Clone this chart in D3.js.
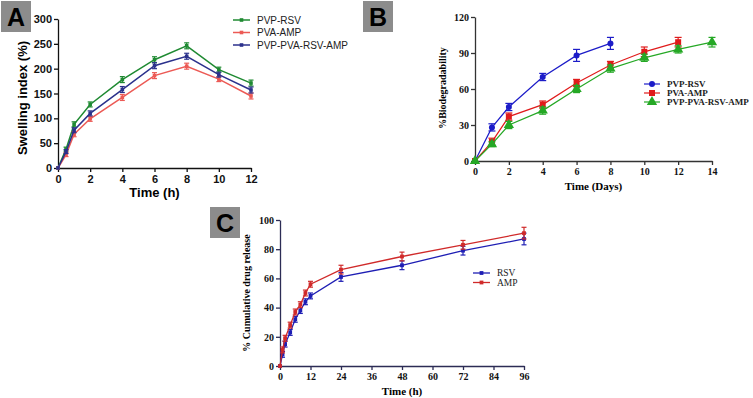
<!DOCTYPE html>
<html>
<head>
<meta charset="utf-8">
<script src="https://cdn.jsdelivr.net/npm/d3@7"></script>
<style>
  body { margin: 0; background: #fff; }
  svg { display: block; }
</style>
</head>
<body>
<svg id="chart" width="753" height="398"></svg>
<script>
// ---- panel A: swelling index ----
let timeA = [0, 0.5, 1, 2, 4, 6, 8, 10, 12];
let swellPvpRsv = [0, 38, 88, 128, 178, 218, 246, 198, 171];
let swellPvaAmp = [0, 27, 68, 99, 142, 186, 205, 179, 145];
let swellBlend = [0, 33, 76, 110, 158, 206, 225, 188, 157];
let swellErr = [0, 4, 5, 5, 6, 6, 6, 5, 6];
let ticksAx = [0, 2, 4, 6, 8, 10, 12];
let ticksAy = [0, 50, 100, 150, 200, 250, 300];

// ---- panel B: biodegradability ----
let timeB1 = [0, 1, 2, 4, 6, 8];
let timeB2 = [0, 1, 2, 4, 6, 8, 10, 12];
let timeB3 = [0, 1, 2, 4, 6, 8, 10, 12, 14];
let bioPvpRsv = [0, 28, 45, 70, 88, 98];
let bioPvaAmp = [0, 16, 37, 47, 65, 80, 91, 99];
let bioBlend = [0, 14, 30, 42, 60, 77, 86, 93, 99];
let bioErr1 = [0, 3, 3, 3, 5, 5];
let bioErr2 = [0, 3, 3, 3, 3, 3, 4, 4];
let bioErr3 = [0, 2, 3, 3, 3, 3, 3, 3, 4];
let ticksBx = [0, 2, 4, 6, 8, 10, 12, 14];
let ticksBy = [0, 30, 60, 90, 120];

// ---- panel C: cumulative release ----
let timeC = [0, 1, 2, 4, 6, 8, 10, 12, 24, 48, 72, 96];
let relRsv = [0, 8, 15, 23, 32, 38, 44, 48, 61, 69, 79, 87];
let relAmp = [0, 11, 19, 28, 37, 42, 50, 56, 66, 75, 83, 91];
let relErr = [0, 2, 2, 2, 2, 2, 2, 2, 3, 3, 3, 4];
let ticksCx = [0, 12, 24, 36, 48, 60, 72, 84, 96];
let ticksCy = [0, 20, 40, 60, 80, 100];

let svg = d3.select("#chart");

function zip(xs, ys, es){
    return xs.map((x, i) => ({x: x, y: ys[i], e: es[i]}));
}

// draws axes for one panel, returns scales
function drawAxes(p){
    let x = d3.scaleLinear().domain(p.xDomain).range(p.xRange);
    let y = d3.scaleLinear().domain(p.yDomain).range(p.yRange);
    let g = svg.append("g");

    let ax = g.append("g")
        .attr("transform", "translate(0," + p.yRange[0] + ")")
        .call(d3.axisBottom(x).tickValues(p.xTicks).tickSize(4).tickSizeOuter(0).tickPadding(3));
    let ay = g.append("g")
        .attr("transform", "translate(" + p.xRange[0] + ",0)")
        .call(d3.axisLeft(y).tickValues(p.yTicks).tickSize(4).tickSizeOuter(0).tickPadding(2));

    for(let a of [ax, ay]){
        a.selectAll("path, line").attr("stroke", p.axisColor).attr("stroke-width", 1.3);
        a.selectAll("text")
            .attr("fill", "#111")
            .style("font-family", p.font)
            .style("font-weight", "bold")
            .style("font-size", p.tickSize + "px");
    }

    g.append("text")
        .attr("x", (p.xRange[0] + p.xRange[1]) / 2 + p.xLabelDx)
        .attr("y", p.xLabelY)
        .attr("text-anchor", "middle")
        .style("font-family", p.font)
        .style("font-weight", "bold")
        .style("font-size", p.labelSize + "px")
        .text(p.xLabel);
    g.append("text")
        .attr("transform", "translate(" + p.yLabelX + "," + p.yLabelY + ") rotate(-90)")
        .attr("text-anchor", "middle")
        .style("font-family", p.font)
        .style("font-weight", "bold")
        .style("font-size", p.ylabelSize + "px")
        .text(p.yLabel);

    // panel letter
    g.append("rect")
        .attr("x", p.box[0]).attr("y", p.box[1])
        .attr("width", 30).attr("height", 31)
        .attr("fill", "#8c8c8c");
    g.append("text")
        .attr("x", p.box[0] + 15).attr("y", p.box[1] + 25)
        .attr("text-anchor", "middle")
        .style("font-family", "Liberation Sans, Arial, sans-serif")
        .style("font-weight", "bold")
        .style("font-size", "25px")
        .text(p.letter);

    return {x: x, y: y};
}

function marker(sel, shape, size, color){
    if(shape === "circle"){
        sel.append("circle").attr("r", size).attr("fill", color);
    }else{
        let sym = shape === "triangle" ? d3.symbolTriangle : d3.symbolSquare;
        sel.append("path")
            .attr("d", d3.symbol().type(sym).size(size * size * 4))
            .attr("fill", color);
    }
}

function drawSeries(sc, s){
    let g = svg.append("g");
    let line = d3.line().x(d => sc.x(d.x)).y(d => sc.y(d.y));
    g.append("path")
        .datum(s.data)
        .attr("d", line)
        .attr("fill", "none")
        .attr("stroke", s.color)
        .attr("stroke-width", s.lw);

    let pts = g.selectAll("g.pt").data(s.data).enter().append("g")
        .attr("class", "pt")
        .attr("transform", d => "translate(" + sc.x(d.x) + "," + sc.y(d.y) + ")");
    pts.filter(d => d.e > 0).each(function(d){
        let t = d3.select(this);
        let dy = sc.y(d.y + d.e) - sc.y(d.y);
        t.append("line").attr("y1", dy).attr("y2", -dy)
            .attr("stroke", s.color).attr("stroke-width", 1.2);
        t.append("line").attr("x1", -s.cap).attr("x2", s.cap).attr("y1", dy).attr("y2", dy)
            .attr("stroke", s.color).attr("stroke-width", 1.2);
        t.append("line").attr("x1", -s.cap).attr("x2", s.cap).attr("y1", -dy).attr("y2", -dy)
            .attr("stroke", s.color).attr("stroke-width", 1.2);
    });
    pts.each(function(){ marker(d3.select(this), s.shape, s.size, s.color); });
}

function drawLegend(items, lx, ly, step, lineLen, font, fsize, weight){
    let g = svg.append("g");
    items.forEach((s, i) => {
        let yy = ly + i * step;
        g.append("line")
            .attr("x1", lx).attr("x2", lx + lineLen)
            .attr("y1", yy).attr("y2", yy)
            .attr("stroke", s.color).attr("stroke-width", s.lw);
        let m = g.append("g").attr("transform", "translate(" + (lx + lineLen / 2) + "," + yy + ")");
        marker(m, s.shape, s.size, s.color);
        g.append("text")
            .attr("x", lx + lineLen + 7).attr("y", yy + fsize * 0.35)
            .style("font-family", font)
            .style("font-size", fsize + "px")
            .style("font-weight", weight)
            .attr("fill", "#222")
            .text(s.name);
    });
}

// ---------- A ----------
let scA = drawAxes({
    xDomain: [0, 12], xRange: [58, 251], yDomain: [0, 300], yRange: [168, 19],
    xTicks: ticksAx, yTicks: ticksAy, axisColor: "#111",
    font: "Liberation Sans, Arial, sans-serif", tickSize: 11, labelSize: 13, ylabelSize: 13,
    xLabel: "Time (h)", xLabelY: 197, xLabelDx: 0,
    yLabel: "Swelling index (%)", yLabelX: 27, yLabelY: 98,
    box: [1, 1], letter: "A"
});
let seriesA = [
    {name: "PVP-RSV", data: zip(timeA, swellPvpRsv, swellErr), color: "#1f8a32", shape: "square", size: 1.8, lw: 1.5, cap: 2.5},
    {name: "PVA-AMP", data: zip(timeA, swellPvaAmp, swellErr), color: "#ec5a55", shape: "square", size: 1.8, lw: 1.5, cap: 2.5},
    {name: "PVP-PVA-RSV-AMP", data: zip(timeA, swellBlend, swellErr), color: "#2b318c", shape: "square", size: 1.8, lw: 1.5, cap: 2.5}
];
seriesA.forEach(s => drawSeries(scA, s));
drawLegend(seriesA, 233, 20, 12.5, 17, "Liberation Sans, Arial, sans-serif", 10, "normal");

// ---------- B ----------
let scB = drawAxes({
    xDomain: [0, 14], xRange: [475, 712], yDomain: [0, 120], yRange: [161, 17],
    xTicks: ticksBx, yTicks: ticksBy, axisColor: "#333",
    font: "Liberation Serif, Times New Roman, serif", tickSize: 10, labelSize: 11, ylabelSize: 10,
    xLabel: "Time (Days)", xLabelY: 190, xLabelDx: 0,
    yLabel: "%Biodegradability", yLabelX: 446, yLabelY: 88,
    box: [363, 1], letter: "B"
});
let seriesB = [
    {name: "PVP-RSV", data: zip(timeB1, bioPvpRsv, bioErr1), color: "#1c1cc8", shape: "circle", size: 3, lw: 1.2, cap: 3.5},
    {name: "PVA-AMP", data: zip(timeB2, bioPvaAmp, bioErr2), color: "#e01b1b", shape: "square", size: 3, lw: 1.2, cap: 3.5},
    {name: "PVP-PVA-RSV-AMP", data: zip(timeB3, bioBlend, bioErr3), color: "#25a825", shape: "triangle", size: 3.4, lw: 1.2, cap: 3.5}
];
seriesB.forEach(s => drawSeries(scB, s));
drawLegend(seriesB, 644, 84, 9, 16, "Liberation Serif, Times New Roman, serif", 9, "bold");

// ---------- C ----------
let scC = drawAxes({
    xDomain: [0, 96], xRange: [280, 524], yDomain: [0, 100], yRange: [366, 220],
    xTicks: ticksCx, yTicks: ticksCy, axisColor: "#2c2c55",
    font: "Liberation Serif, Times New Roman, serif", tickSize: 10, labelSize: 11, ylabelSize: 10,
    xLabel: "Time (h)", xLabelY: 395, xLabelDx: 0,
    yLabel: "% Cumulative drug release", yLabelX: 250, yLabelY: 293,
    box: [210, 207], letter: "C"
});
let seriesC = [
    {name: "RSV", data: zip(timeC, relRsv, relErr), color: "#1e1eb4", shape: "square", size: 1.9, lw: 1.3, cap: 2.5},
    {name: "AMP", data: zip(timeC, relAmp, relErr), color: "#d02a2a", shape: "square", size: 1.9, lw: 1.3, cap: 2.5}
];
seriesC.forEach(s => drawSeries(scC, s));
drawLegend(seriesC, 473, 273, 9.5, 17, "Liberation Serif, Times New Roman, serif", 9.5, "normal");
</script>
</body>
</html>
